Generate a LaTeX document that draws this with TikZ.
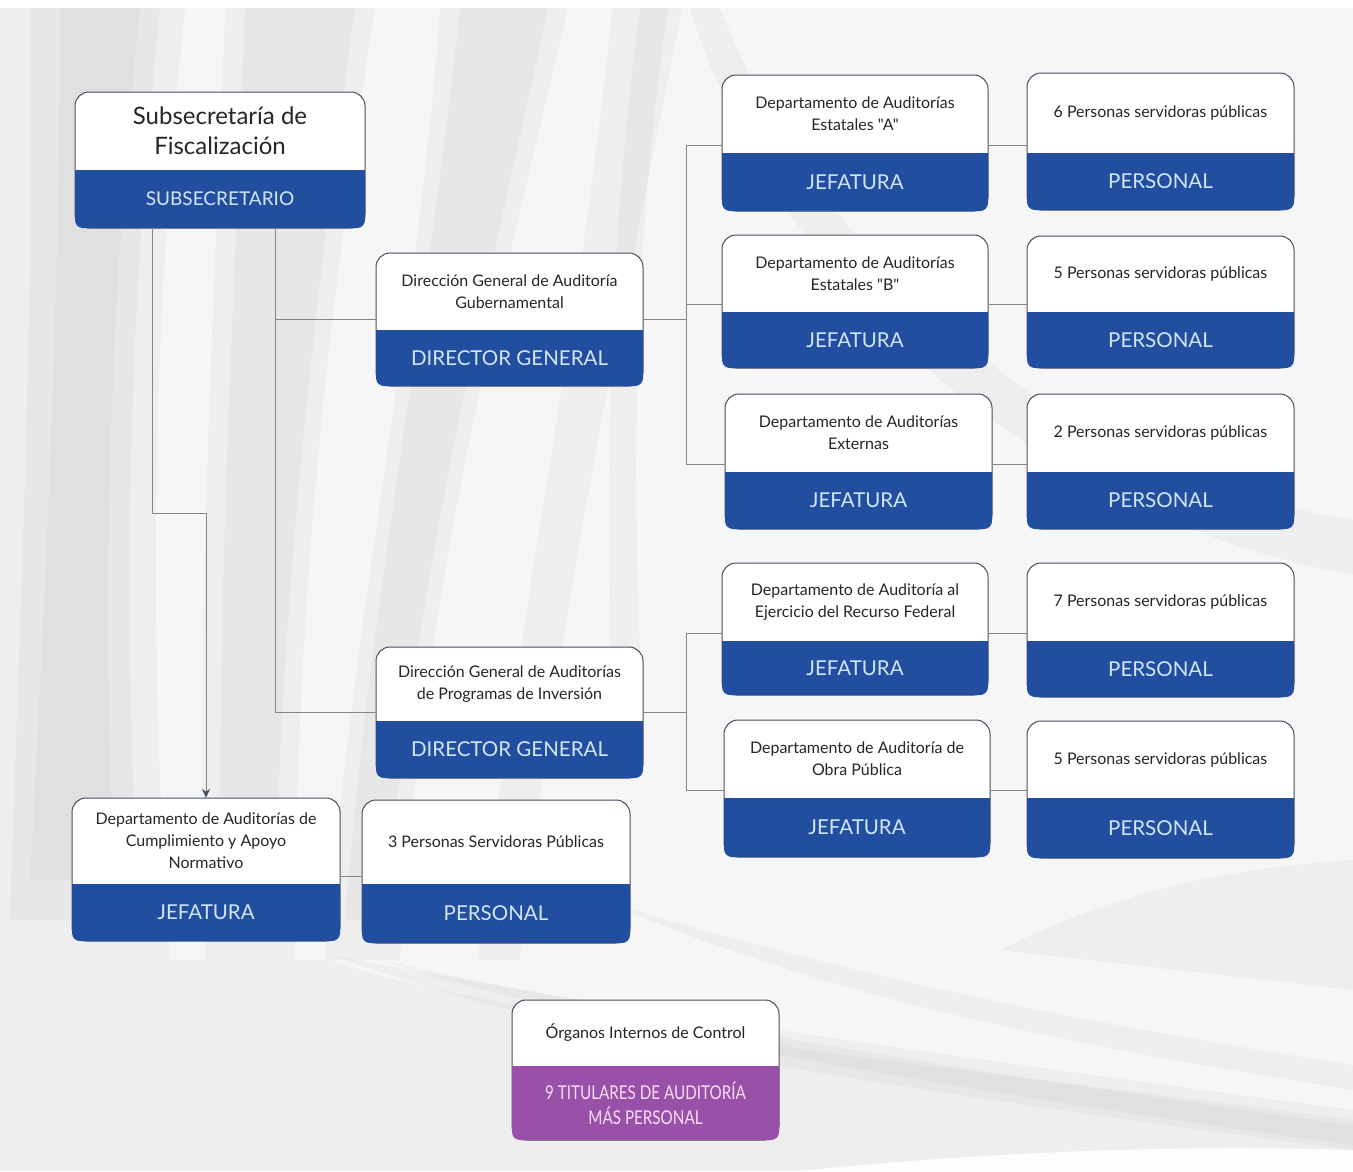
\documentclass[tikz,border=0pt]{standalone}
\usepackage{fontspec}
\setmainfont{Lato}[Ligatures=TeXOff]
\newfontfamily\condfont[FakeStretch=0.8]{Lato}
\usetikzlibrary{arrows.meta}
\definecolor{bandblue}{RGB}{34,78,160}
\definecolor{bandtxt}{RGB}{210,230,250}
\definecolor{purp}{RGB}{153,80,168}
\definecolor{purptxt}{RGB}{250,222,244}
\definecolor{edge}{RGB}{70,78,95}
\definecolor{conn}{RGB}{130,135,140}
\definecolor{bgbase}{RGB}{246,246,247}
\tikzset{
  boxtitle/.style={align=center, text=black!85, font=\fontsize{16}{22}\selectfont, inner sep=0},
  bandlabel/.style={text=bandtxt, font=\fontsize{20.5}{24}\selectfont, inner sep=0},
  conline/.style={draw=conn, line width=1pt},
  streak/.style={fill=black!70, opacity=0.045},
}
\newcommand\obox[9]{%
  \fill[white, draw=edge, line width=1pt, rounded corners=14pt] (#2,#3) rectangle (#4,#5);
  \fill[#9, rounded corners=8pt] (#2,#6) rectangle (#4,#5);
  \fill[#9] (#2,#6) rectangle (#4,#6+12);
  \node[inner sep=0, minimum width={#4pt-#2pt}, minimum height={#5pt-#3pt}] (#1) at ({(#2+#4)/2},{(#3+#5)/2}) {};
  \coordinate (#1-w) at (#2,#6-8);
  \coordinate (#1-e) at (#4,#6-8);
  \node[boxtitle] (#1-t) at ({(#2+#4)/2},{(#3+#6)/2}) {#7};
  \node[bandlabel] (#1-b) at ({(#2+#4)/2},{(#6+#5)/2}) {#8};
}
\begin{document}
\begin{tikzpicture}[x=1pt,y=-1pt]
\useasboundingbox (0,0) rectangle (1353,1171);
% background
\fill[bgbase] (0,0) rectangle (1353,1171);
% left streaks
\fill[streak] (0,8) -- (185,8) .. controls (155,300) and (145,600) .. (170,960) -- (0,960) -- cycle;
\fill[streak] (30,8) -- (160,8) .. controls (130,300) and (120,600) .. (140,920) -- (10,920) .. controls (20,600) and (35,300) .. (30,8) -- cycle;
\fill[streak] (60,8) -- (140,8) .. controls (110,300) and (100,600) .. (115,880) -- (30,880) .. controls (45,600) and (60,300) .. (60,8) -- cycle;
\fill[streak] (225,8) -- (375,8) .. controls (330,300) and (295,600) .. (295,960) -- (205,960) .. controls (195,600) and (215,300) .. (225,8) -- cycle;
\fill[streak] (245,8) -- (355,8) .. controls (315,300) and (280,600) .. (275,920) -- (222,920) .. controls (215,600) and (235,300) .. (245,8) -- cycle;
\fill[streak] (440,8) -- (568,8) .. controls (500,300) and (420,600) .. (400,960) -- (325,960) .. controls (355,600) and (420,300) .. (440,8) -- cycle;
\fill[streak] (460,8) -- (548,8) .. controls (485,300) and (410,600) .. (385,920) -- (345,920) .. controls (370,600) and (430,300) .. (460,8) -- cycle;
\fill[streak] (612,8) -- (682,8) .. controls (625,300) and (560,600) .. (520,960) -- (478,960) .. controls (520,600) and (585,300) .. (612,8) -- cycle;
\fill[streak] (640,8) -- (668,8) .. controls (640,200) and (630,400) .. (640,650) -- (610,650) .. controls (605,400) and (615,200) .. (640,8) -- cycle;
% right streaks
\fill[streak] (690,8) -- (720,8) .. controls (820,260) and (1050,470) .. (1353,520) -- (1353,575) .. controls (1050,520) and (780,300) .. (690,8) -- cycle;
\fill[streak] (1353,860) .. controls (1200,870) and (1100,900) .. (1000,950) -- (1353,990) -- cycle;
% bottom streaks
\fill[streak] (0,960) -- (330,960) .. controls (500,1020) and (900,1060) .. (1353,1120) -- (1353,1171) -- (0,1171) -- cycle;
\fill[streak] (330,955) .. controls (560,1000) and (900,1050) .. (1353,1110) -- (1353,1150) .. controls (900,1090) and (560,1040) .. (330,955) -- cycle;
\fill[streak] (380,960) .. controls (600,1010) and (950,1070) .. (1353,1125) -- (1353,1145) .. controls (950,1090) and (600,1030) .. (380,960) -- cycle;
\fill[streak] (600,900) .. controls (800,960) and (1000,1010) .. (1353,1065) -- (1353,1090) .. controls (1000,1035) and (800,985) .. (600,900) -- cycle;
\fill[white, opacity=0.9] (800,1171) .. controls (1000,1150) and (1200,1145) .. (1353,1150) -- (1353,1171) -- cycle;
\fill[white] (0,0) rectangle (1353,8);
% boxes
\obox{sub}{75}{92}{365}{228}{170}{\fontsize{24}{30}\selectfont Subsecretaría de\\[8pt]\fontsize{24}{30}\selectfont Fiscalización}{\fontsize{19}{22}\selectfont SUBSECRETARIO}{bandblue}
\obox{dga}{376}{253}{643}{386}{330}{Dirección General de Auditoría\\Gubernamental}{DIRECTOR GENERAL}{bandblue}
\obox{depa}{722}{75}{988}{211}{153}{Departamento de Auditorías\\Estatales "A"}{JEFATURA}{bandblue}
\obox{pa}{1027}{73}{1294}{210}{153}{6 Personas servidoras públicas}{PERSONAL}{bandblue}
\obox{depb}{722}{235}{988}{368}{312}{Departamento de Auditorías\\Estatales "B"}{JEFATURA}{bandblue}
\obox{pb}{1027}{236}{1294}{368}{312}{5 Personas servidoras públicas}{PERSONAL}{bandblue}
\obox{ext}{725}{394}{992}{529}{472}{Departamento de Auditorías\\Externas}{JEFATURA}{bandblue}
\obox{pc}{1027}{394}{1294}{529}{472}{2 Personas servidoras públicas}{PERSONAL}{bandblue}
\obox{rf}{722}{563}{988}{695}{641}{Departamento de Auditoría al\\Ejercicio del Recurso Federal}{JEFATURA}{bandblue}
\obox{pd}{1027}{563}{1294}{697}{641}{7 Personas servidoras públicas}{PERSONAL}{bandblue}
\obox{dgp}{376}{647}{643}{778}{721}{Dirección General de Auditorías\\de Programas de Inversión}{DIRECTOR GENERAL}{bandblue}
\obox{op}{724}{720}{990}{857}{798}{Departamento de Auditoría de\\Obra Pública}{JEFATURA}{bandblue}
\obox{pe}{1027}{721}{1294}{858}{798}{5 Personas servidoras públicas}{PERSONAL}{bandblue}
\obox{cum}{72}{798}{340}{941}{884}{Departamento de Auditorías de\\Cumplimiento y Apoyo\\Normativo}{JEFATURA}{bandblue}
\obox{tp}{362}{800}{630}{943}{884}{3 Personas Servidoras Públicas}{PERSONAL}{bandblue}
\obox{oic}{512}{1000}{779}{1140}{1066}{Órganos Internos de Control}{}{purp}
\node[align=center, text=purptxt, font=\condfont\fontsize{19}{25}\selectfont, inner sep=0] (oic-p) at (oic-b) {9 TITULARES DE AUDITORÍA\\\condfont\fontsize{19}{25}\selectfont MÁS PERSONAL};
% connectors
\coordinate (s1) at ([xshift=55pt]sub.south);
\coordinate (s2) at ([xshift=-68pt]sub.south);
\draw[conline] (s1) |- (dga.west);
\draw[conline] (s1) |- (dgp.west);
\draw[conline, -{Stealth[length=9pt,width=8pt,color=edge]}] (s2) -- ++(0,285) -| (cum.north);
\coordinate (t1) at ([xshift=43pt]dga.east);
\coordinate (t2) at ([xshift=43pt]dgp.east);
\draw[conline] (dga.east) -- (t1);
\draw[conline] (t1 |- depa-w) -- (t1 |- ext-w);
\draw[conline] (t1 |- depa-w) -- (depa-w);
\draw[conline] (t1 |- depb-w) -- (depb-w);
\draw[conline] (t1 |- ext-w) -- (ext-w);
\draw[conline] (dgp.east) -- (t2);
\draw[conline] (t2 |- rf-w) -- (t2 |- op-w);
\draw[conline] (t2 |- rf-w) -- (rf-w);
\draw[conline] (t2 |- op-w) -- (op-w);
\draw[conline] (depa-e) -- (depa-e -| pa.west);
\draw[conline] (depb-e) -- (depb-e -| pb.west);
\draw[conline] (ext-e) -- (ext-e -| pc.west);
\draw[conline] (rf-e) -- (rf-e -| pd.west);
\draw[conline] (op-e) -- (op-e -| pe.west);
\draw[conline] (cum-e) -- (cum-e -| tp.west);
\end{tikzpicture}
\end{document}
